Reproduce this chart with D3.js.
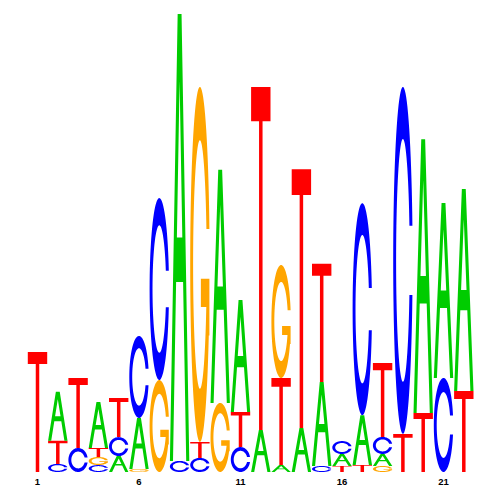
<!DOCTYPE html>
<html><head><meta charset="utf-8">
<script src="https://cdn.jsdelivr.net/npm/d3@7"></script>
<style>body{margin:0;background:#fff}</style>
</head><body>
<svg id="chart" width="500" height="500"></svg>
<script>
// ---- data (information content in bits per letter, per position) ----
const positions = d3.range(1, 23);
const tickPositions = [1, 6, 11, 16, 21];
const tickLabels = ["1", "6", "11", "16", "21"];
const bitsA = [0,0.212,0,0.199,0.069,0.221,0,1.935,0,1.009,0.485,0.182,0.030,0.190,0.364,0.052,0.216,0.052,0,1.186,0.758,0.874];
const bitsC = [0,0.035,0.104,0.030,0.082,0.355,0.788,0.048,0.061,0,0.108,0,0,0,0.026,0.056,0.918,0.074,1.502,0,0.407,0];
const bitsG = [0,0,0,0.035,0,0.013,0.398,0,1.537,0.299,0,0,0.489,0,0,0,0,0.026,0,0,0,0];
const bitsT = [0.519,0.100,0.303,0.039,0.169,0,0,0,0.069,0,0.152,1.485,0.377,1.121,0.511,0.026,0.030,0.320,0.165,0.255,0,0.351];
const letterColors = {A: "#00CC00", C: "#0000FF", G: "#FFA500", T: "#FF0000"};

const svg = d3.select("#chart");
const x = d3.scaleLinear().domain([1, 22]).range([37.5, 463.8]);
const y = d3.scaleLinear().domain([0, 2]).range([472, 10]);
const letterW = 19.4;

// ---- letter shapes in a unit box (u right, v up) ----
const gapHalf = 0.1;
function cContour() {
  const pts = [];
  const to = Math.asin(gapHalf / 0.5), ti = Math.asin(gapHalf / 0.35);
  const n = 80;
  for (let i = 0; i <= n; i++) {
    const t = to + (2 * Math.PI - 2 * to) * i / n;
    pts.push([0.5 + 0.5 * Math.cos(t), 0.5 + 0.5 * Math.sin(t)]);
  }
  for (let i = 0; i <= n; i++) {
    const t = (2 * Math.PI - ti) - (2 * Math.PI - 2 * ti) * i / n;
    pts.push([0.5 + 0.35 * Math.cos(t), 0.5 + 0.35 * Math.sin(t)]);
  }
  return pts;
}
const r1 = 0.5 + 0.5 * Math.cos(Math.asin(gapHalf / 0.5));
const shapes = {
  A: [[[0,0],[0.4,1],[0.6,1],[1,0],[0.84,0],[0.68,0.4],[0.32,0.4],[0.16,0]],
      [[0.36,0.5],[0.5,0.85],[0.64,0.5]]],
  T: [[[0,1],[1,1],[1,0.9],[0.59,0.9],[0.59,0],[0.41,0],[0.41,0.9],[0,0.9]]],
  C: [cContour()],
  G: [cContour(), [[r1,0.46],[0.55,0.46],[0.55,0.38],[r1-0.15,0.38],[r1-0.15,0.3],[r1,0.3]]]
};

function letterPath(letter, cx, yBottom, yTop) {
  const h = yBottom - yTop, x0 = cx - letterW / 2;
  return shapes[letter].map(poly =>
    "M" + poly.map(([u, v]) => (x0 + u * letterW).toFixed(2) + "," + (yBottom - v * h).toFixed(2)).join("L") + "Z"
  ).join("");
}

const table = positions.map((p, i) => {
  const items = [["A", bitsA[i]], ["C", bitsC[i]], ["G", bitsG[i]], ["T", bitsT[i]]]
    .filter(d => d[1] > 0).sort((a, b) => a[1] - b[1]);
  let acc = 0;
  return items.map(([l, v]) => { const d = {pos: p, letter: l, y0: acc, y1: acc + v}; acc += v; return d; });
}).flat();

svg.append("g").selectAll("path").data(table).join("path")
  .attr("d", d => letterPath(d.letter, x(d.pos), y(d.y0), y(d.y1)))
  .attr("fill", d => letterColors[d.letter])
  .attr("fill-rule", d => d.letter === "A" ? "evenodd" : "nonzero");

svg.append("g").selectAll("text").data(tickPositions).join("text")
  .attr("x", d => x(d)).attr("y", 485)
  .attr("text-anchor", "middle")
  .attr("font-family", "Liberation Sans, Arial, sans-serif")
  .attr("font-size", 9.5).attr("font-weight", "bold")
  .text((d, i) => tickLabels[i]);
</script>
</body></html>
